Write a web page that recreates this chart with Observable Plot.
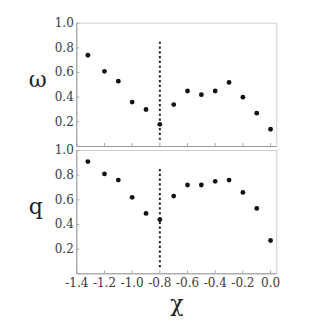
<!DOCTYPE html>
<html>
<head>
<meta charset="utf-8">
<script src="https://cdn.jsdelivr.net/npm/d3@7"></script>
<script src="https://cdn.jsdelivr.net/npm/@observablehq/plot@0.6"></script>
<style>
  body { margin: 0; background: #fff; }
  #chart { width: 312px; height: 328px; }
  #chart svg { display: block; }
</style>
</head>
<body>
<div id="chart"></div>
<script>
const chi = [-1.32, -1.2, -1.1, -1.0, -0.9, -0.8, -0.7, -0.6, -0.5, -0.4, -0.3, -0.2, -0.1, 0.0];
const omega = [0.74, 0.61, 0.53, 0.36, 0.30, 0.18, 0.34, 0.45, 0.42, 0.45, 0.52, 0.40, 0.27, 0.14];
const qVals = [0.91, 0.81, 0.76, 0.62, 0.49, 0.44, 0.63, 0.72, 0.72, 0.75, 0.76, 0.66, 0.53, 0.27];
const xTicks = [-1.4, -1.2, -1.0, -0.8, -0.6, -0.4, -0.2, 0.0];
const yTicks = [0.2, 0.4, 0.6, 0.8, 1.0];
const critical = [-0.8];
const dashRange = [0.05, 0.85];

const fmt = d => d.toFixed(1);
const serif = "DejaVu Serif";

function panel(values, label, opts) {
  const data = chi.map((x, i) => ({x, y: values[i]}));
  const marks = [
    Plot.frame({stroke: "#cfcfcf"}),
    Plot.ruleX([xTicks[0]], {stroke: "#9a9a9a"}),
    Plot.ruleY([0], {stroke: "#9a9a9a"}),
    Plot.axisY(yTicks, {anchor: "left", tickSize: -3, tickPadding: 6, stroke: "#aaa", fill: "#3a3a3a", tickFormat: fmt, fontSize: 12, fontFamily: serif, label: null}),
    Plot.axisX(xTicks, {anchor: "bottom", tickSize: -3, tickPadding: 8, stroke: "#aaa", fill: "#3a3a3a", tickFormat: opts.xLabels ? fmt : () => "", fontSize: 12, fontFamily: serif, label: null}),
    Plot.ruleX(critical, {y1: dashRange[0], y2: dashRange[1], stroke: "#222", strokeWidth: 2, strokeDasharray: "2.2,2.6"}),
    Plot.dot(data, {x: "x", y: "y", r: 2.4, fill: "#111", stroke: null}),
    Plot.text([label], {frameAnchor: "left", textAnchor: "middle", dx: opts.labelDx, dy: opts.labelDy, fontSize: 22, fill: "#222", fontFamily: serif})
  ];
  if (opts.xLabels) {
    marks.push(Plot.text(["χ"], {frameAnchor: "bottom", dy: 37, fontSize: 22, fill: "#222", fontFamily: serif}));
  }
  return Plot.plot({
    width: 312,
    height: opts.height,
    marginLeft: 76.3,
    marginRight: 35.7,
    marginTop: opts.marginTop,
    marginBottom: opts.marginBottom,
    x: {domain: [-1.4, 0.045]},
    y: {domain: [0, 1]},
    style: {fontFamily: serif, fontSize: "12px", color: "#333", background: "white", overflow: "visible"},
    marks
  });
}

const chart = document.getElementById("chart");
chart.append(panel(omega, "ω", {height: 148, marginTop: 22.7, marginBottom: 2, labelDx: -39, labelDy: -5, xLabels: false}));
chart.append(panel(qVals, "q", {height: 180, marginTop: 2, marginBottom: 54.7, labelDx: -41, labelDy: -5, xLabels: true}));
</script>
</body>
</html>
